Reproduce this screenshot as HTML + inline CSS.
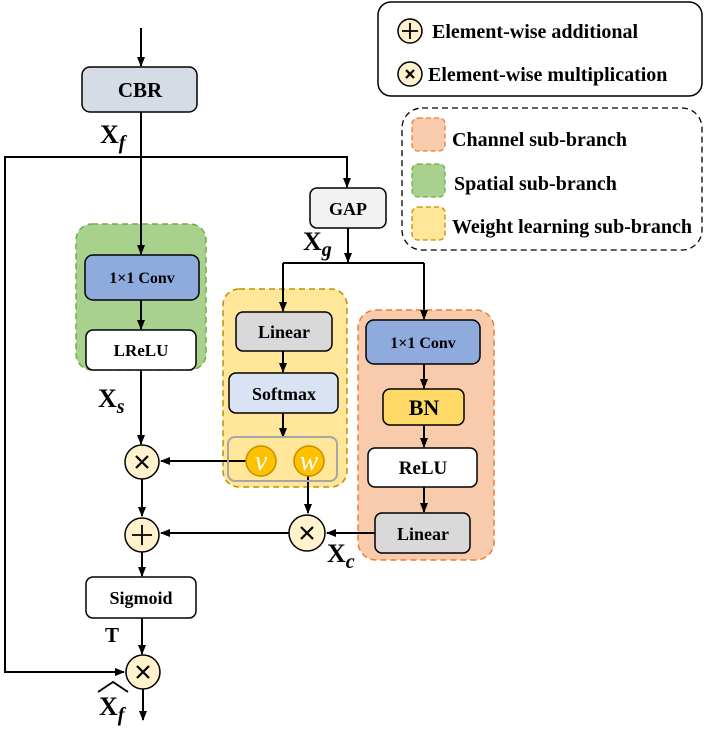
<!DOCTYPE html>
<html><head><meta charset="utf-8"><style>
html,body{margin:0;padding:0;background:#fff;width:706px;height:740px;overflow:hidden}
text{font-family:"Liberation Serif",serif;font-weight:bold;fill:#000}
</style></head><body>
<svg width="706" height="740" viewBox="0 0 706 740" xmlns="http://www.w3.org/2000/svg">
<defs>
<marker id="a" markerWidth="10" markerHeight="10" refX="9" refY="5" orient="auto" markerUnits="userSpaceOnUse">
<path d="M0,1 L10,5 L0,9 Z" fill="#000"/></marker>
</defs>
<g stroke="#000" stroke-width="2" fill="none">
<line x1="141" y1="28" x2="141" y2="66" marker-end="url(#a)"/>
</g>
<rect x="76" y="224" width="130" height="146" rx="16" fill="#a9d18e" stroke="#70ad47" stroke-width="1.5" stroke-dasharray="6,4"/>
<rect x="223" y="289" width="124" height="198" rx="16" fill="#ffe699" stroke="#bf9000" stroke-width="1.5" stroke-dasharray="6,4"/>
<rect x="358" y="310" width="136" height="250" rx="18" fill="#f8cbad" stroke="#ed7d31" stroke-width="1.5" stroke-dasharray="6,4"/>

<g stroke="#000" stroke-width="2" fill="none">
<line x1="141" y1="112" x2="141" y2="254" marker-end="url(#a)"/>
<polyline points="141,157 347,157 347,187" marker-end="url(#a)"/>
<polyline points="141,157 5,157 5,672 124,672" marker-end="url(#a)"/>
<line x1="348" y1="228" x2="348" y2="262" marker-end="url(#a)"/>
<line x1="283" y1="263" x2="424" y2="263"/>
<line x1="283" y1="263" x2="283" y2="311" marker-end="url(#a)"/>
<line x1="424" y1="263" x2="424" y2="319" marker-end="url(#a)"/>
<line x1="141" y1="300" x2="141" y2="329" marker-end="url(#a)"/>
<line x1="141" y1="370" x2="141" y2="444" marker-end="url(#a)"/>
<line x1="283" y1="351" x2="283" y2="372" marker-end="url(#a)"/>
<line x1="283" y1="413" x2="283" y2="437" marker-end="url(#a)"/>
<line x1="246" y1="461" x2="161" y2="461" marker-end="url(#a)"/>
<line x1="308" y1="476" x2="308" y2="513" marker-end="url(#a)"/>
<line x1="424" y1="364" x2="424" y2="388" marker-end="url(#a)"/>
<line x1="424" y1="425" x2="424" y2="447" marker-end="url(#a)"/>
<line x1="424" y1="487" x2="424" y2="512" marker-end="url(#a)"/>
<line x1="375" y1="533" x2="327" y2="533" marker-end="url(#a)"/>
<line x1="289" y1="533" x2="161" y2="533" marker-end="url(#a)"/>
<line x1="142" y1="479" x2="142" y2="516" marker-end="url(#a)"/>
<line x1="142" y1="552" x2="142" y2="576" marker-end="url(#a)"/>
<line x1="142" y1="618" x2="142" y2="654" marker-end="url(#a)"/>
<line x1="143" y1="689" x2="143" y2="720" marker-end="url(#a)"/>
</g>

<g stroke="#000" stroke-width="1.5">
<rect x="82" y="67" width="115" height="45" rx="8" fill="#d6dce5"/>
<rect x="310" y="188" width="76" height="40" rx="7" fill="#f2f2f2"/>
<rect x="85" y="255" width="114" height="45" rx="8" fill="#8faadc"/>
<rect x="86" y="330" width="110" height="40" rx="7" fill="#fff"/>
<rect x="236" y="312" width="96" height="39" rx="7" fill="#d9d9d9"/>
<rect x="229" y="373" width="109" height="40" rx="7" fill="#dae3f3"/>
<rect x="366" y="320" width="114" height="44" rx="8" fill="#8faadc"/>
<rect x="383" y="389" width="81" height="36" rx="7" fill="#ffd966"/>
<rect x="368" y="448" width="109" height="39" rx="7" fill="#fff"/>
<rect x="375" y="513" width="95" height="40" rx="7" fill="#d9d9d9"/>
<rect x="86" y="577" width="110" height="41" rx="7" fill="#fff"/>
</g>
<rect x="228" y="437" width="109" height="44" rx="7" fill="none" stroke="#a6a6a6" stroke-width="2"/>
<circle cx="261" cy="461" r="15" fill="#ffc000" stroke="#bf9000" stroke-width="1.5"/>
<circle cx="309" cy="461" r="15" fill="#ffc000" stroke="#bf9000" stroke-width="1.5"/>
<text x="261" y="470" font-size="28" text-anchor="middle" style="font-style:italic;font-weight:normal;fill:#fff">v</text>
<text x="309" y="470" font-size="28" text-anchor="middle" style="font-style:italic;font-weight:normal;fill:#fff">w</text>

<g fill="#fff2cc" stroke="#000" stroke-width="1.5">
<circle cx="142" cy="462" r="17"/>
<circle cx="142" cy="535" r="17"/>
<circle cx="143" cy="672" r="17"/>
<circle cx="307" cy="533" r="18"/>
<circle cx="410" cy="31" r="12"/>
<circle cx="410" cy="74" r="12"/>
</g>
<g stroke="#000" stroke-width="2.2">
<path d="M136,456 L148,468 M148,456 L136,468"/>
<path d="M137,666 L149,678 M149,666 L137,678"/>
<path d="M301,527 L313,539 M313,527 L301,539"/>
<path d="M132,535 L152,535 M142,525 L142,545" stroke-width="1.8"/>
<path d="M402,31 L418,31 M410,23 L410,39" stroke-width="1.8"/>
<path d="M406,70 L414,78 M414,70 L406,78"/>
</g>

<g font-size="18" text-anchor="middle">
<text x="140" y="97" font-size="21">CBR</text>
<text x="348" y="215">GAP</text>
<text x="142" y="283" font-size="16">1×1 Conv</text>
<text x="141" y="356" font-size="17">LReLU</text>
<text x="284" y="338">Linear</text>
<text x="284" y="400">Softmax</text>
<text x="423" y="348" font-size="16">1×1 Conv</text>
<text x="424" y="415" font-size="22">BN</text>
<text x="423" y="474" font-size="19">ReLU</text>
<text x="423" y="540">Linear</text>
<text x="141" y="604" font-size="18">Sigmoid</text>
</g>
<g font-size="26">
<text x="100" y="143">X<tspan font-size="20" font-style="italic" dy="6">f</tspan></text>
<text x="303" y="250">X<tspan font-size="20" font-style="italic" dy="6">g</tspan></text>
<text x="98" y="407">X<tspan font-size="20" font-style="italic" dy="6">s</tspan></text>
<text x="327" y="562">X<tspan font-size="20" font-style="italic" dy="6">c</tspan></text>
<text x="105" y="642" font-size="21">T</text>
<text x="99" y="715">X<tspan font-size="20" font-style="italic" dy="6">f</tspan></text>
</g>
<path d="M98,692 L113,682 L128,692" stroke="#000" stroke-width="1.8" fill="none"/>

<rect x="378" y="2" width="324" height="94" rx="13" fill="none" stroke="#000" stroke-width="1.5"/>
<text x="432" y="38" font-size="20">Element-wise additional</text>
<text x="428" y="81" font-size="20">Element-wise multiplication</text>
<rect x="402" y="108" width="300" height="142" rx="20" fill="none" stroke="#000" stroke-width="1.3" stroke-dasharray="6,4"/>
<rect x="412" y="118" width="33" height="33" rx="6" fill="#f8cbad" stroke="#ed7d31" stroke-width="1.3" stroke-dasharray="5,3"/>
<rect x="412" y="164" width="33" height="33" rx="6" fill="#a9d18e" stroke="#70ad47" stroke-width="1.3" stroke-dasharray="5,3"/>
<rect x="412" y="207" width="33" height="33" rx="6" fill="#ffe699" stroke="#bf9000" stroke-width="1.3" stroke-dasharray="5,3"/>
<text x="452" y="146" font-size="20">Channel sub-branch</text>
<text x="454" y="190" font-size="20">Spatial sub-branch</text>
<text x="452" y="233" font-size="20">Weight learning sub-branch</text>
</svg>
</body></html>
